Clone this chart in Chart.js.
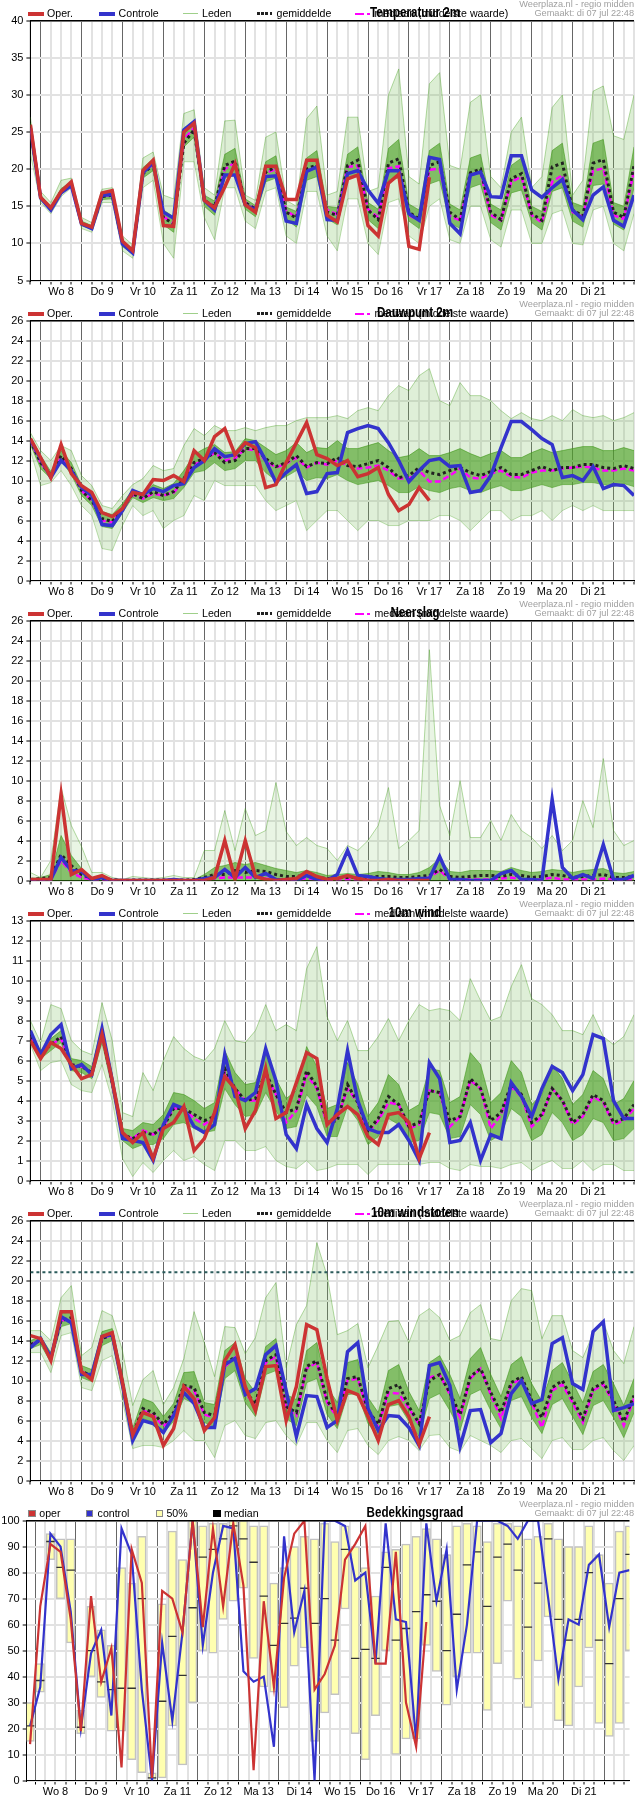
<!DOCTYPE html>
<html><head><meta charset="utf-8">
<script src="https://cdn.jsdelivr.net/npm/chart.js"></script>
<style>
body{margin:0;background:#fff;}
#wrap{position:relative;width:635px;}
.panel{position:relative;width:635px;height:300px;overflow:hidden;}
.panel canvas{position:absolute;left:0;top:0;}
.t{position:absolute;white-space:nowrap;font-family:"Liberation Sans",Arial,sans-serif;line-height:1;color:#000;}
.lg{font-size:10.6px;top:8.3px;}
.ttl{font-size:14px;font-weight:bold;top:5.4px;left:415px;transform:translateX(-50%) scaleX(0.83);}
.wm{font-size:9.2px;color:#a0a0a0;right:1px;}
.sw{position:absolute;}
</style></head><body><div id="wrap"></div>
<script>
// ---------- time axis ----------
const dayLabels = ['Wo 8','Do 9','Vr 10','Za 11','Zo 12','Ma 13','Di 14','Wo 15','Do 16','Vr 17','Za 18','Zo 19','Ma 20','Di 21'];
const times = [-6,0,6,12,18,24,30,36,42,48,54,60,66,72,78,84,90,96,102,108,114,120,126,132,138,144,150,156,162,168,174,180,186,192,198,204,210,216,222,228,234,240,246,252,258,264,270,276,282,288,294,300,306,312,318,324,330,336,342,348];
const cloudTimes = [-3,3,9,15,21,27,33,39,45,51,57,63,69,75,81,87,93,99,105,111,117,123,129,135,141,147,153,159,165,171,177,183,189,195,201,207,213,219,225,231,237,243,249,255,261,267,273,279,285,291,297,303,309,315,321,327,333,339,345,351];

// ---------- Temperatuur 2m ----------
const tempOper = [26.0,16.2,14.8,17.0,18.3,12.7,12.2,16.8,17.1,10.3,9.0,19.8,21.2,12.4,12.3,25.0,26.2,15.8,14.8,17.6,20.7,15.2,14.2,20.4,20.4,15.9,15.9,21.2,21.2,13.8,12.9,18.7,19.2,12.4,11.0,18.1,19.3,9.6,9.2,18.9];
const tempCtrl = [25.5,16.1,14.5,16.8,17.8,12.6,12.0,16.5,16.6,9.9,8.7,19.5,20.9,14.2,13.4,25.3,26.4,15.8,14.5,19.2,19.2,15.2,14.5,19.0,19.1,13.0,12.7,19.7,20.3,13.2,13.1,19.4,19.8,17.2,15.4,19.8,19.8,14.0,13.1,21.6,21.3,12.7,11.3,19.2,19.6,16.3,16.2,21.8,21.8,17.2,16.2,17.5,18.6,14.5,13.2,16.5,17.6,13.1,12.3,16.5];
const tempMean = [25.5,16.2,14.6,17.0,18.0,12.7,12.1,16.3,16.5,10.0,8.9,19.4,20.6,13.5,12.6,23.5,25.3,15.8,14.9,20.5,21.1,15.5,14.6,19.6,20.3,14.2,13.4,20.0,20.6,14.2,13.8,20.5,21.2,14.5,13.2,20.8,21.4,14.2,13.3,20.5,21.0,14.2,13.2,19.5,20.0,14.2,13.2,18.7,19.4,14.0,13.1,20.3,20.8,14.5,13.7,20.8,21.3,14.2,13.5,20.5];
const tempMed = [25.5,16.2,14.6,17.0,17.9,12.7,12.1,16.4,16.5,10.0,8.9,19.5,20.7,13.6,12.7,24.0,25.6,15.8,14.9,20.0,20.9,15.5,14.7,19.5,20.0,14.4,13.5,19.8,20.3,14.5,13.9,20.3,20.5,14.6,13.5,20.1,20.4,13.8,13.1,19.9,20.1,13.7,13.1,19.2,19.6,13.8,13.1,18.3,19.0,13.8,12.8,18.3,19.2,14.2,13.6,19.8,20.1,13.8,13.3,19.8];
const tempLo = [22,15.5,14,16.3,17.5,12,11.5,15.5,15.5,9,8,17.5,18.5,10,8,21,21,13.5,10.5,17.5,17.5,13,12,17,17.5,11,10,17,17,11,9,16,16,10,8.5,15.5,16,11,10,15,16,10.5,10,15,15,10.5,9.5,14.5,14.5,10,10,14,14.5,10,9.8,14.5,15,10,9,14];
const tempHi = [27,17,15.5,18.5,18.8,13.5,12.8,17.3,17.5,11,9.8,21.5,22.3,16.5,16,27.5,28,17.5,16.5,26.5,26.6,16.5,15.8,24.3,25,15.8,15,26.8,28.5,16.5,17,27,27,17,17.5,30,33.5,19,18,31.5,33,20.5,20,29,30,19,17.5,25,27,17.5,19,28.3,30,16.5,18.5,30.5,31.2,24.5,24,30];
const tempQ1 = [24.5,15.9,14.3,16.7,17.7,12.4,11.9,15.9,16.0,9.6,8.5,18.8,19.8,12.5,11.5,23.0,24.3,15.0,13.8,18.8,19.2,14.6,13.6,18.3,18.8,13.3,12.2,18.5,19.0,13.3,12.5,18.8,19.2,13.2,12.0,18.5,18.8,13.0,12.0,18.0,18.5,12.8,12.0,17.5,18.0,12.8,11.8,16.8,17.2,12.8,11.8,17.0,17.5,13.0,12.2,17.8,18.0,12.6,11.8,17.5];
const tempQ3 = [26.2,16.5,14.9,17.4,18.3,13.0,12.4,16.8,17.0,10.4,9.3,20.2,21.4,14.5,13.6,25.5,26.5,16.5,15.7,22.0,22.8,16.0,15.1,21.0,21.8,14.9,14.3,21.5,22.5,15.0,14.8,22.0,23.0,15.5,14.6,22.8,24.0,15.3,14.5,22.5,23.5,15.3,14.5,21.5,22.0,15.3,14.5,20.5,21.5,15.0,14.3,22.5,23.5,15.5,15.0,23.5,24.0,15.5,15.0,23.0];

// ---------- Dauwpunt 2m ----------
const dewOper = [14.2,12.3,10.3,13.6,10.7,9.5,8.8,6.8,6.4,7.2,8.8,8.6,10.1,10.0,10.5,9.9,13.0,12.0,14.4,15.2,12.6,13.8,13.3,9.3,9.6,11.8,13.8,15.8,12.6,12.2,11.5,12.0,10.4,10.7,11.3,8.6,7.0,7.6,9.3,8.0];
const dewCtrl = [14.1,12.2,10.3,12.0,11.0,9.3,8.5,5.6,5.5,7.0,9.0,8.6,9.2,8.9,9.5,9.7,11.3,12.0,13.2,12.4,12.6,13.7,13.9,12.0,9.8,10.8,11.6,8.7,8.9,10.7,10.8,14.8,15.2,15.5,15.2,13.8,12.0,9.9,11.0,12.0,12.2,11.4,11.5,8.8,9.0,10.5,13.3,15.9,15.9,15.1,14.2,13.6,10.3,10.5,10.0,11.4,9.2,9.6,9.5,8.5];
const dewMean = [14.0,11.8,10.5,12.5,11.2,9.0,8.0,6.2,5.9,7.2,8.7,8.2,8.9,8.5,8.9,10.2,11.8,12.2,12.8,11.8,12.0,13.2,13.2,12.2,11.4,11.8,12.5,11.4,11.8,11.7,12.3,11.5,11.4,11.7,12.0,11.3,10.3,10.5,11.3,10.8,10.6,11.0,11.3,10.8,10.5,10.9,11.3,10.6,10.6,11.0,11.4,11.0,11.3,11.3,11.6,11.6,11.3,11.2,11.5,11.2];
const dewMed = [14.0,11.8,10.5,12.3,11.0,9.0,8.0,6.0,5.8,7.2,8.6,8.2,8.7,8.5,8.8,10.0,11.6,12.0,12.8,12.0,12.2,13.2,13.0,12.0,11.3,11.7,12.3,11.3,11.8,11.6,12.0,11.5,11.2,11.3,11.5,11.0,10.2,10.2,11.0,9.9,9.9,10.5,11.2,10.3,10.2,10.7,11.0,10.4,10.3,10.8,11.0,11.0,11.2,11.3,11.4,11.3,11.0,11.0,11.2,11.0];
const dewLo = [13,9.5,9.8,11,9.5,7.5,6.5,3.2,3.0,5.5,7.5,6.5,7,5.2,6,6.5,8.5,8,10,9.5,9.5,9.5,9.5,8,7,7.5,8,5,6,7,7,6,5,6,6,5.5,5.5,6,6,6,6.5,6.5,6,5,6,7,7,6,6.5,6.5,7,6,7,7.5,7,7.5,7,7,7,7];
const dewHi = [14.8,13,12,13.5,13,10.5,9.5,7.5,7.2,8.5,9.6,10.2,11.5,11,11.2,13.5,15.2,14.5,15.5,15,15,15.3,15,15.3,15.5,15.5,16,16.3,16.3,16.3,16.5,16.2,17,17.3,17,18.5,19.5,19,20.5,21.2,18,17.5,19.8,18.5,18.5,18,17,16.2,16.8,16.2,16,16.5,16,17.1,16.5,16.3,16.5,16,16.3,16.8];
const dewQ1 = [13.6,11.2,10.2,12.0,10.6,8.5,7.5,5.4,5.2,6.8,8.3,7.8,8.3,8.0,8.2,9.3,10.8,11.0,11.8,11.0,11.2,12.0,12.0,10.8,10.0,10.4,11.0,10.0,10.3,10.2,10.6,10.0,9.6,9.8,10.0,9.5,8.8,8.8,9.4,9.0,8.8,9.2,9.4,9.0,8.8,9.2,9.5,9.0,9.0,9.3,9.6,9.3,9.6,9.6,9.8,9.8,9.6,9.4,9.7,9.4];
const dewQ3 = [14.3,12.5,10.9,13.0,11.8,9.5,8.6,6.9,6.6,7.7,9.1,8.7,9.6,9.2,9.7,11.0,12.6,13.2,13.6,12.8,12.9,14.2,14.0,13.3,12.6,13.0,13.8,12.8,13.3,13.2,14.0,13.2,13.2,13.5,13.8,13.0,12.3,12.5,13.2,12.5,12.5,12.8,13.2,12.7,12.3,12.7,13.0,12.3,12.3,12.8,13.2,12.8,13.0,13.2,13.4,13.4,13.0,13.0,13.3,13.0];

// ---------- Neerslag ----------
const rainOper = [0.1,0.1,0.1,8.6,0.6,1.1,0.2,0.5,0,0,0,0,0,0,0,0,0,0,0.3,4.0,0.1,4.0,0.4,0.1,0,0.1,0.2,0.9,0.4,0.1,0.2,0.5,0.2,0,0,0.1,0,0,0,0];
const rainCtrl = [0,0,0.1,2.3,1.0,0.9,0.1,0.3,0,0,0,0,0,0,0.1,0,0,0.2,0.3,1.1,0.3,1.3,0.3,0.7,0.1,0,0,0.5,0.1,0,0.6,3.0,0.5,0.4,0.2,0.1,0.1,0.1,0.2,0.2,2.4,0.1,0.1,0,0,0,0.7,1.0,0.1,0.1,0,8.1,1.3,0.2,0.6,0.2,3.6,0.1,0.1,0.5];
const rainMean = [0.1,0.2,0.3,2.6,1.5,0.6,0.2,0.2,0.1,0,0.05,0.05,0.05,0.05,0.05,0.05,0.1,0.3,0.6,0.6,1.0,0.8,1.0,0.9,0.6,0.4,0.4,0.5,0.3,0.2,0.3,0.3,0.3,0.3,0.4,0.4,0.3,0.3,0.4,0.5,1.1,0.4,0.3,0.4,0.5,0.5,0.4,0.6,0.5,0.3,0.4,0.6,0.5,0.3,0.4,0.5,0.6,0.3,0.3,0.4];
const rainMed = [0,0,0.1,2.0,0.8,0.3,0.1,0.1,0,0,0,0,0,0,0,0,0,0.1,0.2,0.3,0.3,0.3,0.3,0.2,0.1,0.1,0.1,0.2,0.1,0,0.1,0.1,0.1,0.1,0.1,0.1,0.1,0.1,0.2,0.3,1.0,0.1,0.1,0.1,0.1,0.1,0.2,0.3,0.1,0.1,0.1,0.3,0.1,0.1,0.1,0.1,0.2,0.1,0.1,0.1];
const rainLo = [0,0,0,0,0,0,0,0,0,0,0,0,0,0,0,0,0,0,0,0,0,0,0,0,0,0,0,0,0,0,0,0,0,0,0,0,0,0,0,0,0,0,0,0,0,0,0,0,0,0,0,0,0,0,0,0,0,0,0,0];
const rainHi = [0.8,0.3,2.0,9.3,5.5,3.4,0.8,0.8,0.3,0.1,0.4,0.3,0.2,0.3,0.5,0.3,0.3,3.0,3.0,7.0,3.0,7.2,4.5,5.0,9.8,4.9,3.5,4.3,3.5,3.2,2.0,3.5,3.0,4.0,5.5,9.3,3.2,4.0,5.0,23.1,7.5,4.5,10.0,4.3,4.3,6.0,4.0,6.6,5.0,4.3,3.2,4.5,3.0,4.0,8.0,5.3,12.2,5.0,3.5,4.0];
const rainQ3 = [0.2,0.3,0.6,4.5,2.5,1.2,0.3,0.3,0.1,0,0.1,0.1,0.05,0.1,0.1,0.1,0.1,0.6,1.3,1.5,1.8,1.6,1.8,1.5,1.2,1.0,0.8,1.0,0.8,0.5,0.6,0.7,0.6,0.7,0.9,0.8,0.6,0.6,0.8,1.3,2.2,0.9,0.8,1.0,1.0,1.0,0.9,1.3,1.0,0.8,0.9,1.1,1.0,0.8,1.0,1.1,1.2,0.8,0.7,0.9];

// ---------- 10m wind ----------
const windOper = [7.0,6.1,6.9,6.6,5.8,5.1,5.3,7.3,5.0,2.4,1.9,2.4,1.1,2.6,2.9,3.7,1.5,2.1,3.4,5.2,4.6,2.6,3.5,5.6,3.1,3.4,4.9,6.4,6.1,2.8,3.3,3.7,3.3,2.2,1.8,3.3,3.4,2.9,1.1,2.4];
const windCtrl = [7.5,6.3,7.3,7.8,5.6,5.8,5.3,7.6,5.0,2.1,2.0,1.9,1.0,2.8,3.8,3.6,2.7,2.4,2.8,6.3,4.2,4.0,4.4,6.6,5.0,2.3,1.6,3.8,2.6,1.9,3.6,6.5,4.0,2.6,2.4,2.4,2.8,2.0,1.0,5.9,5.1,1.9,2.0,2.9,1.0,2.3,2.1,4.9,4.2,3.2,4.6,5.7,5.4,4.5,5.3,7.3,7.1,4.0,3.1,3.1];
const windMean = [7.2,6.3,6.8,7.2,5.8,5.7,5.4,7.3,4.9,2.3,2.1,2.4,2.3,2.7,3.6,3.6,3.3,3.0,3.2,5.6,4.6,4.0,4.1,5.4,4.3,3.4,3.6,5.5,4.7,2.9,3.0,4.8,3.9,2.5,3.1,4.2,3.8,2.7,2.9,4.5,4.4,3.0,3.2,5.1,4.6,3.0,3.4,4.8,4.3,2.9,3.3,4.6,4.0,2.9,3.3,4.3,4.0,2.9,3.1,3.8];
const windMed = [7.2,6.3,6.8,7.1,5.8,5.7,5.4,7.3,4.9,2.3,2.1,2.5,2.3,2.7,3.6,3.6,3.1,2.8,3.2,5.4,4.6,4.0,4.0,5.3,4.3,2.9,3.5,5.3,4.6,2.8,3.1,4.6,3.9,2.4,3.0,3.9,3.8,2.6,2.8,4.5,4.4,2.7,3.2,5.0,4.6,2.6,3.3,4.7,4.2,2.7,3.2,4.6,4.0,2.8,3.2,4.2,3.9,2.8,3.0,3.6];
const windLo = [6.8,5.5,5.9,6,4.8,4.5,4.4,5.8,4,1.1,0.2,0.9,0.4,1,1.5,1,1.2,0.8,0.5,2,2,1.5,1.5,1.7,1,0.7,0.6,1,0.5,0.6,0.8,0.8,0.8,0.3,0.8,0.8,0.8,0.8,0.8,0.9,0.9,0.6,0.5,0.8,0.7,0.7,0.6,0.8,0.9,0.5,0.8,1,0.6,0.6,1,0.5,0.8,0.8,0.5,0.5];
const windHi = [8,6.9,8.8,8.6,7,6.5,6.3,8.9,7,3.4,3.2,5.4,4.5,6,7.2,6.6,6.2,6,6.6,8,7,6.9,7.5,8.8,7.5,7.8,7.5,10.6,11.7,8.2,7,8,6.5,6.5,7.2,8.1,7,8,8.8,8.5,8.6,8.5,8,10.1,9,8,8.2,9.7,10.8,9.1,8.8,8.3,7.5,7.5,7.3,8.3,7.2,6.8,7.2,8.3];
const windQ1 = [7.0,6.1,6.5,6.9,5.5,5.4,5.1,6.9,4.6,2.0,1.6,1.8,1.8,2.1,2.8,2.9,2.6,2.4,2.5,4.6,3.8,3.2,3.3,4.4,3.5,2.6,2.7,4.3,3.7,2.2,2.2,3.7,3.0,1.8,2.2,3.1,2.8,1.9,2.0,3.4,3.3,2.1,2.2,3.8,3.3,2.0,2.3,3.6,3.2,2.0,2.3,3.4,2.9,2.0,2.3,3.1,2.9,2.0,2.1,2.6];
const windQ3 = [7.4,6.5,7.1,7.5,6.1,6.0,5.7,7.7,5.3,2.6,2.5,2.9,2.8,3.3,4.4,4.3,4.0,3.6,3.9,6.5,5.4,4.8,4.9,6.4,5.1,4.1,4.5,6.7,5.7,3.6,3.8,5.9,4.8,3.2,3.9,5.3,4.8,3.5,3.8,5.6,5.5,3.9,4.2,6.4,5.8,3.9,4.4,6.0,5.4,3.8,4.3,5.8,5.1,3.8,4.3,5.5,5.1,3.8,4.1,5.0];

// ---------- 10m windstoten ----------
const gustThreshold = 20.85;
const gustOper = [14.5,14.2,12.0,16.9,16.9,10.9,10.1,14.4,14.8,9.8,4.6,6.8,6.4,3.5,5.2,9.4,8.2,5.0,6.3,12.0,13.6,9.4,7.0,11.4,11.5,6.0,9.4,15.6,15.1,10.2,6.0,9.0,8.6,6.4,4.0,7.6,8.0,6.4,3.6,6.4];
const gustCtrl = [13.3,14.2,12.3,16.4,15.8,10.6,10.6,14.4,14.6,9.6,4.0,6.0,5.7,4.8,6.5,8.8,7.7,5.3,5.3,11.6,12.2,8.6,9.2,12.6,13.5,9.0,4.4,8.5,8.4,5.3,6.0,12.9,13.8,7.2,5.0,6.5,6.4,5.3,3.5,11.5,11.8,9.5,3.4,7.0,7.1,3.8,4.7,8.7,10.0,7.7,8.1,13.7,14.3,9.7,9.1,14.9,15.9,7.0,7.3,7.7];
const gustMean = [13.6,14.0,12.3,16.0,16.3,10.9,10.5,14.2,14.6,9.8,4.6,7.2,6.8,5.6,6.8,9.5,9.3,6.8,6.5,11.6,12.4,9.0,7.6,12.0,12.6,7.4,6.8,11.4,12.0,8.0,6.5,10.2,10.4,7.0,5.6,9.2,9.6,7.4,5.7,10.0,10.6,8.8,6.6,10.4,11.2,8.8,6.8,9.8,10.4,8.0,6.3,9.3,10.0,8.1,6.2,9.2,9.8,8.0,5.9,8.5];
const gustMed = [13.6,14.0,12.2,16.0,16.2,10.9,10.5,14.2,14.6,9.7,4.6,7.0,6.6,5.4,6.6,9.3,9.0,6.6,6.3,11.4,12.3,8.8,7.4,11.8,12.4,7.2,6.5,11.2,11.8,7.8,6.3,10.0,10.2,6.8,5.4,8.8,8.7,7.2,5.6,10.3,10.6,8.6,6.3,10.2,11.2,8.6,6.2,9.6,10.2,7.8,5.3,9.0,9.6,7.8,5.8,9.0,9.6,7.8,5.5,8.2];
const gustLo = [12.8,12.8,10.8,14.5,14.8,9.3,9,12,12.5,8,3.2,3.5,3.5,3.3,4,5,4,4,2.3,5.5,6,4.5,4.2,5.8,6,4.5,3.5,5.8,5.8,4,2.8,5,5.2,3.5,2.6,4,4.4,4,3,4.5,4.6,3.3,2.9,4.5,4,3.5,2.8,4,4.2,3.2,2.2,4,4.3,3.1,3.1,4,4.3,3,2,3.5];
const gustHi = [15,15,14,18.3,19.5,12.5,13.3,17,16.5,13,7.5,10.1,11,7.6,9.3,12.2,16.9,13.8,10.4,15.4,15.3,12.7,14.3,18.3,19.8,11.3,15.6,17.5,23.8,20.5,14.6,15,15.7,11.3,13.5,15.9,16,13.8,16.5,17.2,16.3,14,14.5,16.8,17.6,14.2,14,18,19.2,19,14.2,16.5,16.5,13,12.3,14.7,15.9,13,11.7,15.4];
const gustQ1 = [13.2,13.6,11.8,15.4,15.7,10.3,9.9,13.5,14.0,9.0,4.0,6.2,5.8,4.8,5.9,8.2,7.7,5.8,5.4,10.2,11.0,7.8,6.4,10.6,11.0,6.2,5.5,9.8,10.2,6.6,5.2,8.6,8.7,5.7,4.4,7.4,7.6,5.9,4.4,8.2,8.7,7.0,5.0,8.6,9.1,7.0,5.2,8.0,8.4,6.3,4.7,7.6,8.2,6.4,4.6,7.5,8.0,6.3,4.3,6.8];
const gustQ3 = [14.0,14.4,12.8,16.7,16.9,11.5,11.1,14.9,15.2,10.6,5.2,8.2,7.8,6.4,7.7,10.8,10.9,7.8,7.6,13.0,13.8,10.2,8.8,13.4,14.2,8.6,8.1,13.0,13.8,9.4,7.8,11.8,12.1,8.3,6.8,11.0,11.6,8.9,7.0,11.8,12.5,10.6,8.2,12.2,13.3,10.6,8.4,11.6,12.4,9.7,7.9,11.0,11.8,9.8,7.8,10.9,11.6,9.7,7.5,10.2];

// ---------- Bedekkingsgraad ----------
const cloudLo = [15,34,85,70,53,18,40,32,19,19,8,3,0,1,21,6,30,50,49,62,69,74,47,36,34,28,44,51,15,26,33,66,18,8,25,50,10,16,16,52,42,29,40,49,49,27,45,69,39,28,46,63,23,21,36,51,22,17,22,50];
const cloudHi = [30,45,95,93,93,27,67,58,52,82,76,94,3,68,96,85,100,98,99,99,100,100,98,98,76,82,90,94,93,99,92,98,90,82,71,88,89,91,94,97,93,87,98,99,98,92,99,99,98,93,94,99,93,90,90,98,87,76,96,98];
const cloudMed = [21,38.5,92,82,81,20.5,50,38,35,35.5,35.5,70,1,30.5,55.5,40.5,66.5,86,89,93,98,93,84,71,52,60.5,62.5,74,60.5,70,54,89,47,50.5,47,82,54,58.5,65,71.5,69,50,64,83,88,67,86,91,81,59,76,93,62,54,62,80,54,45,70,87];
const cloudOper = [14,67,91,88,62,19,71,38,51,5,89,76,1,73,70,57,100,59,97,67,99,75,4,69,36,78,95,100,35,41,52,85,91,98,45,45,88,30,13,61];
const cloudCtrl = [21,36,95,90,65,20,49,58,25,97,87,35,0,53,23,57,100,52,80,98,97,42,38,40,13,94,57,73,0,100,100,98,77,80,45,99,62,61,15,99,69,89,35,60,100,100,100,98,93,100,100,70,39,62,60,83,87,59,80,81];

// ---------- styling / helpers ----------
const FONT = 'Liberation Sans';
const C_OPER = '#cc3333', C_CTRL = '#3333cc';
const tickHours = []; for (let h = -6; h <= 348; h += 6) tickHours.push(h);
const cloudTickHours = []; for (let h = 0; h <= 348; h += 6) cloudTickHours.push(h);

function dayLabelFor(v) {
  if (v % 24 !== 12) return '';
  const d = (v - 12) / 24;
  return dayLabels[d] || '';
}
const topBorder = { id: 'topBorder', afterDraw(chart) {
  const {ctx, chartArea: a} = chart;
  ctx.save(); ctx.strokeStyle = '#000'; ctx.lineWidth = 1.5;
  ctx.beginPath(); ctx.moveTo(a.left, a.top); ctx.lineTo(a.right, a.top); ctx.stroke(); ctx.restore();
}};
function xScale(min, max, tv) {
  return {
    type: 'linear', min, max, offset: false,
    afterBuildTicks: s => { s.ticks = tv.map(v => ({value: v})); },
    afterFit: s => { s.height = 19.5; },
    grid: { offset: false,
      color: c => (c.tick && c.tick.value % 24 === 0) ? '#666' : '#e2e2e2',
      lineWidth: c => (c.tick && c.tick.value % 24 === 0) ? 1 : 2,
      tickColor: '#000', tickLength: 4, tickWidth: 1 },
    border: { display: true, color: '#000', width: 1 },
    ticks: { autoSkip: false, maxRotation: 0, minRotation: 0, padding: 1, color: '#000',
      font: { family: FONT, size: 11 }, callback: v => dayLabelFor(v) }
  };
}
function yScale(min, max, step, w) {
  return {
    type: 'linear', min, max, position: 'left',
    afterFit: s => { s.width = w; },
    ticks: { stepSize: step, color: '#000', padding: 3, autoSkip: false, font: { family: FONT, size: 11 } },
    grid: { color: '#e2e2e2', lineWidth: 2, tickColor: '#000', tickLength: 4, tickWidth: 1 },
    border: { display: true, color: '#000', width: 1 }
  };
}
const pts = (arr, tt) => arr.map((v, i) => ({x: tt[i], y: v}));

function makePanel(html) {
  const div = document.createElement('div');
  div.className = 'panel';
  const cv = document.createElement('canvas');
  cv.width = 635; cv.height = 300;
  cv.style.width = '635px'; cv.style.height = '300px';
  div.appendChild(cv);
  const ov = document.createElement('div');
  ov.innerHTML = html;
  div.appendChild(ov);
  document.getElementById('wrap').appendChild(div);
  return cv;
}
const wmHtml = '<div class="t wm" style="top:-0.3px">Weerplaza.nl - regio midden</div>' +
               '<div class="t wm" style="top:9.1px">Gemaakt: di 07 jul 22:48</div>';
function lineLegend(title) {
  return '<div class="sw" style="left:27.5px;top:11.5px;width:16px;height:4px;background:' + C_OPER + '"></div>' +
    '<div class="t lg" style="left:47px">Oper.</div>' +
    '<div class="sw" style="left:99px;top:11.5px;width:16px;height:4px;background:' + C_CTRL + '"></div>' +
    '<div class="t lg" style="left:118.6px">Controle</div>' +
    '<div class="sw" style="left:183px;top:13px;width:15px;height:1px;background:#9fd08a"></div>' +
    '<div class="t lg" style="left:202px">Leden</div>' +
    '<div class="sw" style="left:257px;top:12px;width:15px;height:3px;background:repeating-linear-gradient(90deg,#222 0 3px,transparent 3px 4.2px)"></div>' +
    '<div class="t lg" style="left:276.5px">gemiddelde</div>' +
    '<div class="sw" style="left:355px;top:12.5px;width:15px;height:2.5px;background:repeating-linear-gradient(90deg,#f0f 0 9px,transparent 9px 12px)"></div>' +
    '<div class="t lg" style="left:374.5px">mediaan (middelste waarde)</div>' +
    '<div class="t ttl">' + title + '</div>' + wmHtml;
}

const panels = [
  {title: 'Temperatuur 2m', min: 5, max: 40, step: 5, oper: tempOper, ctrl: tempCtrl, mean: tempMean, med: tempMed, lo: tempLo, hi: tempHi, q1: tempQ1, q3: tempQ3, outerAlpha: 0.26},
  {title: 'Dauwpunt 2m', min: 0, max: 26, step: 2, oper: dewOper, ctrl: dewCtrl, mean: dewMean, med: dewMed, lo: dewLo, hi: dewHi, q1: dewQ1, q3: dewQ3, outerAlpha: 0.24},
  {title: 'Neerslag', min: 0, max: 26, step: 2, oper: rainOper, ctrl: rainCtrl, mean: rainMean, med: rainMed, lo: rainLo, hi: rainHi, q1: rainLo, q3: rainQ3, outerAlpha: 0.16},
  {title: '10m wind', min: 0, max: 13, step: 1, oper: windOper, ctrl: windCtrl, mean: windMean, med: windMed, lo: windLo, hi: windHi, q1: windQ1, q3: windQ3, outerAlpha: 0.24},
  {title: '10m windstoten', min: 0, max: 26, step: 2, oper: gustOper, ctrl: gustCtrl, mean: gustMean, med: gustMed, lo: gustLo, hi: gustHi, q1: gustQ1, q3: gustQ3, outerAlpha: 0.24, threshold: gustThreshold},
];

for (const p of panels) {
  const cv = makePanel(lineLegend(p.title));
  const ds = [
    {data: pts(p.lo, times), borderColor: 'rgba(70,160,30,0.35)', borderWidth: 1, fill: false, order: 8},
    {data: pts(p.hi, times), borderColor: 'rgba(70,160,30,0.4)', borderWidth: 1, fill: '-1', backgroundColor: 'rgba(120,190,90,' + p.outerAlpha + ')', order: 7},
    {data: pts(p.q1, times), borderColor: 'rgba(60,150,20,0.55)', borderWidth: 1, fill: false, order: 6},
    {data: pts(p.q3, times), borderColor: 'rgba(60,150,20,0.55)', borderWidth: 1, fill: '-1', backgroundColor: 'rgba(75,160,35,0.62)', order: 5},
    {data: pts(p.med, times), borderColor: '#ff00ff', borderWidth: 2.5, borderDash: [6, 3], fill: false, order: 3},
    {data: pts(p.mean, times), borderColor: '#222', borderWidth: 3, borderDash: [3, 3], fill: false, order: 2},
    {data: pts(p.ctrl, times), borderColor: C_CTRL, borderWidth: 3.5, fill: false, order: 1},
    {data: pts(p.oper, times), borderColor: C_OPER, borderWidth: 3.5, fill: false, order: 0},
  ];
  if (p.threshold !== undefined) {
    ds.push({data: [{x: -6, y: p.threshold}, {x: 348, y: p.threshold}], borderColor: '#2b5b5b', borderWidth: 2, borderDash: [3, 3], fill: false, order: 4});
  }
  new Chart(cv, {
    type: 'line',
    data: { datasets: ds },
    options: {
      responsive: false, animation: false,
      layout: { padding: { top: 20.7, left: 0, right: 0, bottom: 0 } },
      plugins: { legend: { display: false }, title: { display: false }, tooltip: { enabled: false } },
      elements: { point: { radius: 0 }, line: { tension: 0 } },
      scales: { x: xScale(-6, 348, tickHours), y: yScale(p.min, p.max, p.step, 30.4) }
    },
    plugins: [topBorder]
  });
}

// cloud cover panel
{
  const sq = (l, col, bc) => '<div class="sw" style="left:' + l + 'px;top:10px;width:7.3px;height:7.3px;box-sizing:border-box;background:' + col + ';border:1px solid ' + bc + '"></div>';
  const html = sq(28.3, C_OPER, '#888') + '<div class="t lg" style="left:39.3px">oper</div>' +
    sq(86.2, C_CTRL, '#888') + '<div class="t lg" style="left:97.6px">control</div>' +
    sq(155.9, '#ffffb0', '#888') + '<div class="t lg" style="left:166.4px">50%</div>' +
    sq(213.4, '#000', '#000') + '<div class="t lg" style="left:223.9px">median</div>' +
    '<div class="t ttl">Bedekkingsgraad</div>' + wmHtml;
  const cv = makePanel(html);
  new Chart(cv, {
    type: 'line',
    data: { datasets: [
      {type: 'bar', data: cloudTimes.map((t, k) => ({x: t, y: [cloudLo[k], cloudHi[k]]})),
       backgroundColor: '#ffffb0', borderColor: '#c2c2c2', borderWidth: 1.5, borderSkipped: false, barThickness: 8.5, order: 5},
      {type: 'line', data: pts(cloudMed, cloudTimes), showLine: false, pointStyle: 'line', pointRadius: 4.2,
       pointBorderColor: '#333', pointBorderWidth: 1.3, pointBackgroundColor: '#333', order: 3},
      {type: 'line', data: pts(cloudCtrl, cloudTimes), borderColor: C_CTRL, borderWidth: 2.2, fill: false, pointRadius: 0, order: 1},
      {type: 'line', data: pts(cloudOper, cloudTimes), borderColor: C_OPER, borderWidth: 2.2, fill: false, pointRadius: 0, order: 0},
    ]},
    options: {
      responsive: false, animation: false,
      layout: { padding: { top: 20.7, left: 0, right: 0, bottom: 0 } },
      plugins: { legend: { display: false }, title: { display: false }, tooltip: { enabled: false } },
      elements: { line: { tension: 0 } },
      scales: { x: xScale(-5, 351, cloudTickHours), y: yScale(0, 100, 10, 26.7) }
    },
    plugins: [topBorder]
  });
}
</script>
</body></html>
